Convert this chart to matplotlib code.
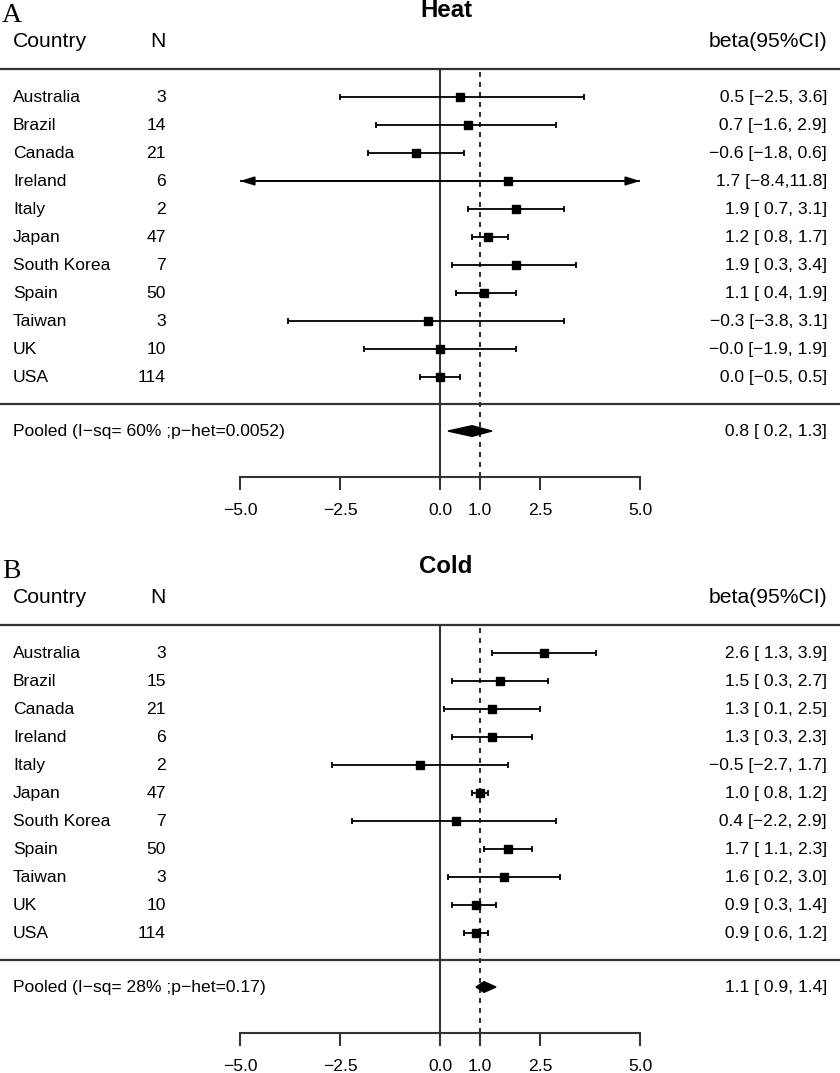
import matplotlib
matplotlib.use("Agg")
import matplotlib.pyplot as plt

plt.rcParams['font.family'] = ['Liberation Sans', 'DejaVu Sans']

countries = ["Australia", "Brazil", "Canada", "Ireland", "Italy", "Japan",
             "South Korea", "Spain", "Taiwan", "UK", "USA"]

heat_n = [3, 14, 21, 6, 2, 47, 7, 50, 3, 10, 114]
heat_est = [0.5, 0.7, -0.6, 1.7, 1.9, 1.2, 1.9, 1.1, -0.3, -0.0, 0.0]
heat_lo = [-2.5, -1.6, -1.8, -8.4, 0.7, 0.8, 0.3, 0.4, -3.8, -1.9, -0.5]
heat_hi = [3.6, 2.9, 0.6, 11.8, 3.1, 1.7, 3.4, 1.9, 3.1, 1.9, 0.5]
heat_pooled = [0.8, 0.2, 1.3]
heat_pooled_label = "Pooled (I\u2212sq= 60% ;p\u2212het=0.0052)"

cold_n = [3, 15, 21, 6, 2, 47, 7, 50, 3, 10, 114]
cold_est = [2.6, 1.5, 1.3, 1.3, -0.5, 1.0, 0.4, 1.7, 1.6, 0.9, 0.9]
cold_lo = [1.3, 0.3, 0.1, 0.3, -2.7, 0.8, -2.2, 1.1, 0.2, 0.3, 0.6]
cold_hi = [3.9, 2.7, 2.5, 2.3, 1.7, 1.2, 2.9, 2.3, 3.0, 1.4, 1.2]
cold_pooled = [1.1, 0.9, 1.4]
cold_pooled_label = "Pooled (I\u2212sq= 28% ;p\u2212het=0.17)"

xticks = [-5.0, -2.5, 0.0, 1.0, 2.5, 5.0]
xticklabels = ["\u22125.0", "\u22122.5", "0.0", "1.0", "2.5", "5.0"]

W, H = 840, 1073
fig = plt.figure(figsize=(W / 100, H / 100), dpi=100)

LINE = '#333333'
ROW_H = 28.0
FIRST_ROW_PX = 97.0
HEADER_LINE_PX = 69.0
AXIS_PX = 477.0
XCLIP = (-5.0, 5.0)


def fmt(v):
    return f"{v:4.1f}".replace('-', '\u2212')


def panel(off, letter, title, n, est, lo, hi, pooled, pooled_label):
    top = HEADER_LINE_PX + off
    bot = AXIS_PX + off
    ax = fig.add_axes([0, 1 - bot / H, 1, (bot - top) / H])
    ax.set_xlim(-11, 10)
    ymax = (AXIS_PX - FIRST_ROW_PX) / ROW_H
    ax.set_ylim(ymax, -1)
    for s in ['top', 'left', 'right']:
        ax.spines[s].set_visible(False)
    ax.spines['bottom'].set_bounds(XCLIP[0], XCLIP[1])
    ax.spines['bottom'].set_linewidth(1.5)
    ax.spines['bottom'].set_color(LINE)
    ax.set_yticks([])
    ax.set_xticks(xticks)
    ax.set_xticklabels(xticklabels)
    ax.tick_params(axis='x', length=9.5, width=1.5, color=LINE, pad=9,
                   labelsize=12.6)

    ax.axvline(0, color=LINE, lw=1.5, zorder=1)
    ax.axvline(1, color=LINE, lw=1.5, ls=(0, (2.4, 2.4)), zorder=1)
    ax.axhline(-1, color=LINE, lw=1.6, clip_on=False)
    sep = len(est) - 0.05
    ax.axhline(sep, color=LINE, lw=1.6)

    rows = list(range(len(est)))
    for r, e, l, h in zip(rows, est, lo, hi):
        lc = max(l, XCLIP[0])
        hc = min(h, XCLIP[1])
        ax.hlines(r, lc, hc, color='black', lw=1.3, zorder=2)
        if l < XCLIP[0]:
            ax.annotate('', xy=(lc, r), xytext=(e, r),
                        arrowprops=dict(arrowstyle='-|>,head_length=0.7,head_width=0.22',
                                        color='black', lw=1.3, shrinkA=0, shrinkB=0,
                                        mutation_scale=12))
        else:
            ax.plot([lc], [r], marker='|', ms=5, mew=1.3, color='black')
        if h > XCLIP[1]:
            ax.annotate('', xy=(hc, r), xytext=(e, r),
                        arrowprops=dict(arrowstyle='-|>,head_length=0.7,head_width=0.22',
                                        color='black', lw=1.3, shrinkA=0, shrinkB=0,
                                        mutation_scale=12))
        else:
            ax.plot([hc], [r], marker='|', ms=5, mew=1.3, color='black')
    ax.plot(est, rows, ls='none', marker='s', ms=6, color='black', zorder=3)

    pr = len(est) + 0.93
    pe, pl, ph = pooled
    dh = 0.19
    ax.fill([pl, pe, ph, pe], [pr, pr - dh, pr, pr + dh], color='black', zorder=3)

    tr = ax.get_yaxis_transform()
    bl = 5.0 / ROW_H
    for r, c, nn, e, l, h in zip(rows, countries, n, est, lo, hi):
        ax.text(13 / W, r + bl, c, transform=tr, fontsize=12.6, va='baseline', ha='left')
        ax.text(166 / W, r + bl, str(nn), transform=tr, fontsize=12.6, va='baseline', ha='right')
        ax.text(827 / W, r + bl, f"{fmt(e)} [{fmt(l)},{fmt(h)}]", transform=tr,
                fontsize=12.6, va='baseline', ha='right')
    ax.text(13 / W, pr + bl, pooled_label, transform=tr, fontsize=12.6, va='baseline', ha='left')
    ax.text(827 / W, pr + bl, f"{fmt(pe)} [{fmt(pl)},{fmt(ph)}]", transform=tr,
            fontsize=12.6, va='baseline', ha='right')

    # header
    hb = (46.7 - FIRST_ROW_PX) / ROW_H
    ax.text(13 / W, hb, "Country", transform=tr, fontsize=15.2, va='baseline', ha='left')
    ax.text(166 / W, hb, "N", transform=tr, fontsize=15.2, va='baseline', ha='right')
    ax.text(827 / W, hb, "beta(95%CI)", transform=tr, fontsize=15.2, va='baseline', ha='right')
    tb = (17.3 - FIRST_ROW_PX) / ROW_H
    ax.text(446 / W, tb, title, transform=tr, fontsize=17.3, fontweight='bold',
            va='baseline', ha='center')
    lb = (22.0 - FIRST_ROW_PX) / ROW_H
    ax.text(2 / W, lb, letter, transform=tr, fontsize=20, va='baseline', ha='left',
            family=['Liberation Serif', 'DejaVu Serif'])
    return ax


panel(0, "A", "Heat", heat_n, heat_est, heat_lo, heat_hi, heat_pooled, heat_pooled_label)
panel(556, "B", "Cold", cold_n, cold_est, cold_lo, cold_hi, cold_pooled, cold_pooled_label)

fig.savefig("out.png", dpi=100)
